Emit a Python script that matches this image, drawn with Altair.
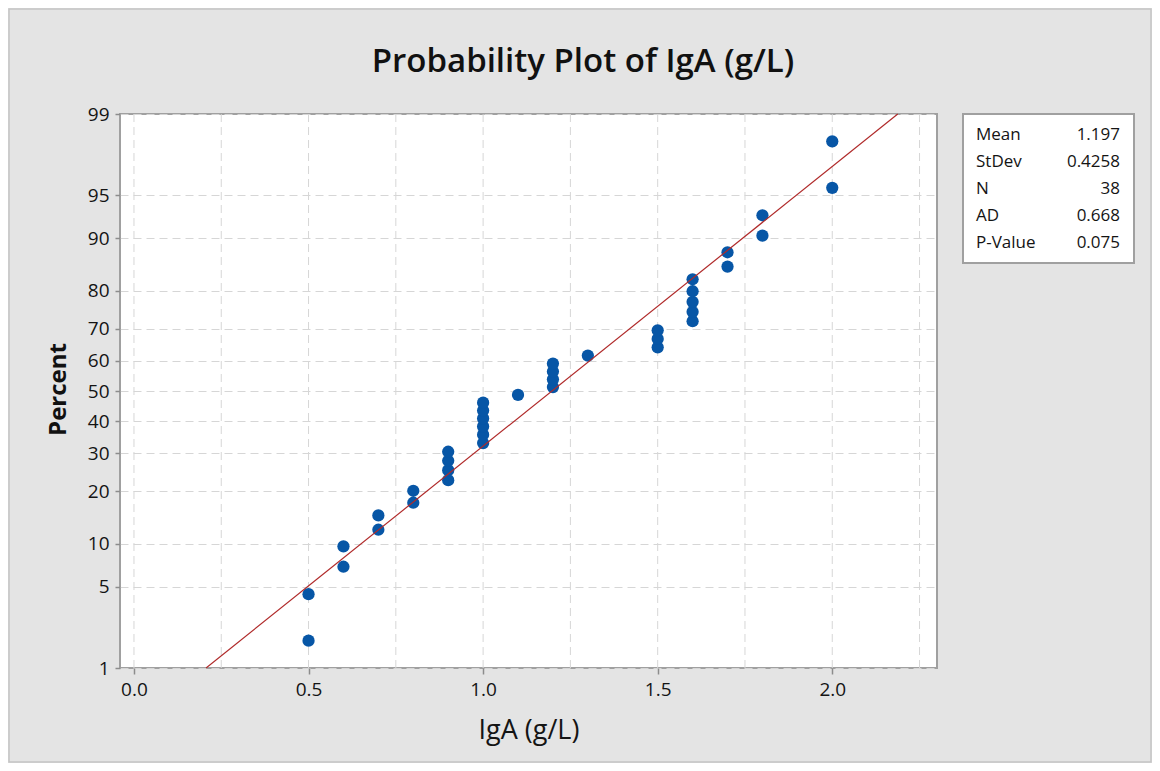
import altair as alt
import pandas as pd
from statistics import NormalDist

# ---- data ----
chart_title = ["Probability Plot of IgA (g/L)"]

iga = [0.5, 0.5, 0.6, 0.6, 0.7, 0.7, 0.8, 0.8,
       0.9, 0.9, 0.9, 0.9,
       1.0, 1.0, 1.0, 1.0, 1.0, 1.0,
       1.1,
       1.2, 1.2, 1.2, 1.2,
       1.3,
       1.5, 1.5, 1.5,
       1.6, 1.6, 1.6, 1.6, 1.6,
       1.7, 1.7, 1.8, 1.8, 2.0, 2.0]
percent = [1.8, 4.4, 7.0, 9.6, 12.2, 14.8, 17.4, 20.1,
           22.7, 25.3, 27.9, 30.5,
           33.1, 35.7, 38.3, 40.9, 43.5, 46.1,
           48.7,
           51.3, 53.9, 56.5, 59.1,
           61.7,
           64.3, 66.9, 69.5,
           72.1, 74.7, 77.3, 79.9, 82.6,
           85.2, 87.8, 90.4, 93.0, 95.6, 98.2]

mean = 1.197
stdev = 0.4258
fit_percent = [1, 99]

stat_labels = ["Mean", "StDev", "N", "AD", "P-Value"]
stat_values = ["1.197", "0.4258", "38", "0.668", "0.075"]

y_tick_pct = [1, 5, 10, 20, 30, 40, 50, 60, 70, 80, 90, 95, 99]
x_tick_vals = [0.0, 0.5, 1.0, 1.5, 2.0]
x_grid_vals = [0.0, 0.25, 0.5, 0.75, 1.0, 1.25, 1.5, 1.75, 2.0, 2.25]
x_domain = [-0.04, 2.30]

# ---- derived tables ----
nd = NormalDist()
y_tick_z = [nd.inv_cdf(p / 100) for p in y_tick_pct]
y_domain = [y_tick_z[0], y_tick_z[-1]]

pts = pd.DataFrame({"iga": iga, "percent": percent})
fit = pd.DataFrame({"p": fit_percent})
grid = pd.DataFrame({"g": x_grid_vals})
stats = pd.DataFrame({"row": list(range(len(stat_labels))),
                      "label": stat_labels, "value": stat_values})
box = pd.DataFrame({"k": [0]})
title_df = pd.DataFrame({"t": chart_title})

FONT = "Open Sans"
TXT = "#141414"
xscale = alt.Scale(domain=x_domain, nice=False, zero=False)
yscale = alt.Scale(domain=y_domain, nice=False, zero=False)

xaxis = alt.Axis(values=x_tick_vals, format=".1f", grid=False, domain=False,
                 tickSize=6, tickColor="#8c8c8c", tickWidth=1.5,
                 labelFont=FONT, labelFontSize=19, labelColor=TXT,
                 labelPadding=6,
                 title="IgA (g/L)", titleFont=FONT, titleFontSize=27,
                 titleFontWeight="normal", titleColor=TXT,
                 titleBaseline="alphabetic", titleY=70)
yaxis = alt.Axis(values=y_tick_z, labelExpr="round(cumulativeNormal(datum.value)*100)",
                 grid=True, gridDash=[8, 5], gridColor="#d6d6d6", gridWidth=1,
                 domain=False, tickSize=5, tickColor="#8c8c8c", tickWidth=1.5,
                 labelFont=FONT, labelFontSize=19, labelColor=TXT,
                 labelPadding=6,
                 title="Percent", titleFont=FONT, titleFontSize=24,
                 titleFontWeight="bold", titleColor="#111111",
                 titleAngle=-90, titleBaseline="alphabetic", titleAlign="center",
                 titleX=-55, titleY=275)

frame_layer = alt.Chart(box).mark_rect(fill="transparent", stroke="#c4c4c4",
                                       strokeWidth=1.5).encode(
    x=alt.value(-111), x2=alt.value(1031), y=alt.value(-105), y2=alt.value(648))

title_layer = alt.Chart(title_df).mark_text(
    align="center", baseline="alphabetic", font=FONT, fontSize=33,
    fontWeight=600, color="#111111").encode(
    x=alt.value(463), y=alt.value(-42), text="t:N")

grid_layer = alt.Chart(grid).mark_rule(strokeDash=[8, 5], color="#d6d6d6",
                                       strokeWidth=1).encode(
    x=alt.X("g:Q", scale=xscale, axis=xaxis))

points = alt.Chart(pts).transform_calculate(
    z="quantileNormal(datum.percent / 100)"
).mark_circle(size=150, opacity=1, color="#0756a6").encode(
    x=alt.X("iga:Q", scale=xscale, axis=xaxis),
    y=alt.Y("z:Q", scale=yscale, axis=yaxis))

line = alt.Chart(fit).transform_calculate(
    z="quantileNormal(datum.p / 100)"
).transform_calculate(
    x=f"{mean} + datum.z * {stdev}"
).mark_line(color="#b02a2a", strokeWidth=1.2).encode(
    x=alt.X("x:Q", scale=xscale, axis=xaxis),
    y=alt.Y("z:Q", scale=yscale, axis=None))

box_layer = alt.Chart(box).mark_rect(fill="white", stroke="#a0a0a0",
                                     strokeWidth=2).encode(
    x=alt.value(843), x2=alt.value(1014), y=alt.value(0), y2=alt.value(149))

stat_y = alt.Y("row:O", scale=alt.Scale(type="point", range=[26, 134], padding=0),
               axis=None)
lab_layer = alt.Chart(stats).mark_text(align="left", baseline="alphabetic",
                                       font=FONT, fontSize=17, color=TXT).encode(
    x=alt.value(856), y=stat_y, text="label:N")
val_layer = alt.Chart(stats).mark_text(align="right", baseline="alphabetic",
                                       font=FONT, fontSize=17, color=TXT).encode(
    x=alt.value(1000), y=stat_y, text="value:N")

chart = alt.layer(frame_layer, title_layer, grid_layer, points, line, box_layer,
                  lab_layer, val_layer).resolve_scale(
    y="independent"
).properties(
    width=817, height=554,
    padding={"left": 112, "top": 106, "right": 215, "bottom": 95},
    autosize=alt.AutoSizeParams(type="none"),
    background="#e4e4e4",
).configure_view(stroke="#a0a0a0", strokeWidth=2, fill="white")

chart.save("out.html", embed_options={"renderer": "svg", "actions": False})
